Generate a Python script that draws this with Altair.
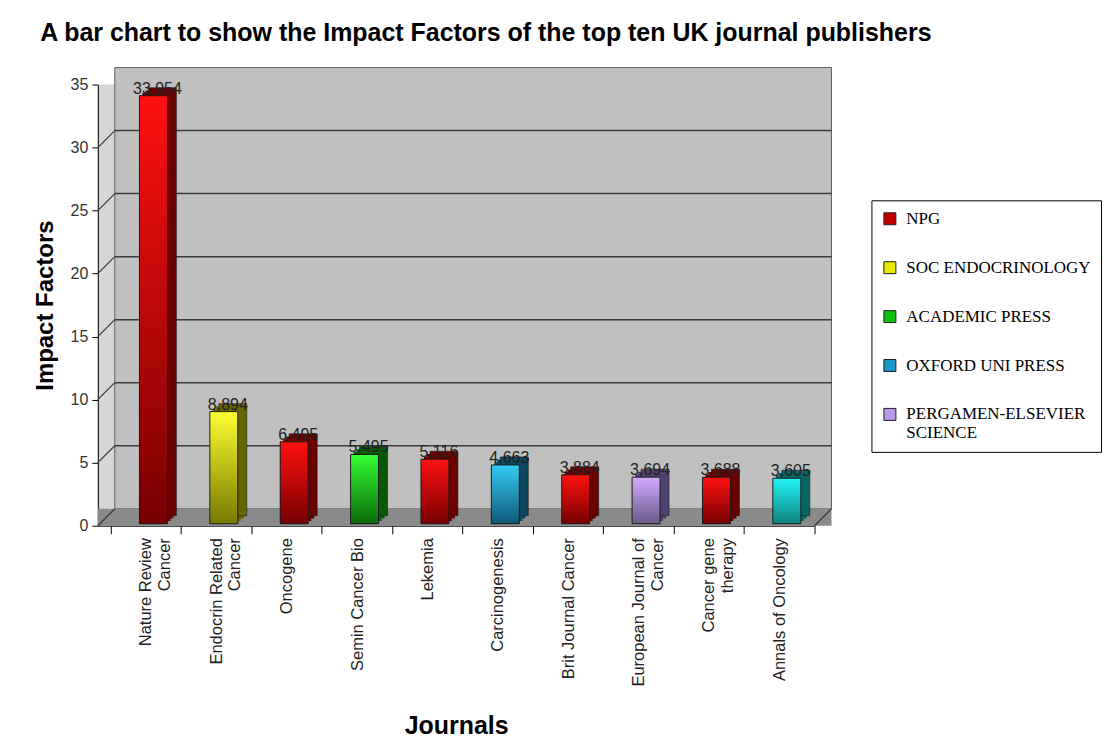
import altair as alt
import pandas as pd

journals = ["Nature Review\nCancer", "Endocrin Related\nCancer", "Oncogene", "Semin Cancer Bio",
            "Lekemia", "Carcinogenesis", "Brit Journal Cancer", "European Journal of\nCancer",
            "Cancer gene\ntherapy", "Annals of Oncology"]
impact = [33.954, 8.894, 6.495, 5.495, 5.116, 4.663, 3.884, 3.694, 3.688, 3.605]
publisher = ["NPG", "SOC ENDOCRINOLOGY", "NPG", "ACADEMIC PRESS", "NPG", "OXFORD UNI PRESS",
             "NPG", "PERGAMEN-ELSEVIER SCIENCE", "NPG", "OXFORD UNI PRESS (Annals)"]
groups = ["NPG", "SOC ENDOCRINOLOGY", "ACADEMIC PRESS", "OXFORD UNI PRESS",
          "PERGAMEN-ELSEVIER SCIENCE", "OXFORD UNI PRESS (Annals)"]
legend_groups = groups[:5]
y_ticks = [0, 5, 10, 15, 20, 25, 30, 35]
grid_levels = [0, 5, 10, 15, 20, 25, 30]

# styles
legend_colors = ["#c00000", "#e8e800", "#10c010", "#1a98c8", "#b898e8", "#20e0e0"]
top_colors = ["#ff1010", "#ffff33", "#33ff33", "#33ccf5", "#d4aaff", "#22f5f5"]
bottom_colors = ["#780000", "#787800", "#0a6a0a", "#0e5a78", "#665888", "#0e8080"]
dark_colors = ["#6a0000", "#666600", "#085808", "#0c4860", "#4e4270", "#0a6464"]

W, H = 718, 442
DX, DY = 17, 17
BAR = 28
BX, BY = 7.5, -2
SANS = "Liberation Sans, Arial, sans-serif"
SERIF = "Liberation Serif, Times New Roman, serif"

df = pd.DataFrame({"journal": journals, "impact": impact, "publisher": publisher})
wall = pd.DataFrame({"lo": [0], "hi": [35]})
grid = pd.DataFrame({"v": grid_levels})

xscale = alt.Scale(domain=journals, paddingInner=0, paddingOuter=0.092, align=1)
xaxis = alt.Axis(title="Journals", labelAngle=270, labelAlign="right", labelBaseline="middle",
                 labelExpr="split(datum.label, '\\n')", labelFont=SANS, labelFontSize=16.5,
                 labelColor="#222", labelPadding=4, labelLimit=300, tickBand="extent",
                 tickSize=8, tickColor="black", domainColor="black",
                 titleFont=SANS, titleFontSize=25, titleFontWeight="bold", titleColor="black",
                 titlePadding=28)
yscale = alt.Scale(domain=[0, 35], nice=False, zero=True)
yaxis = alt.Axis(title="Impact Factors", values=y_ticks, grid=False, domainColor="black",
                 tickColor="black", tickSize=6, labelFont=SANS, labelFontSize=16,
                 labelColor="#333", labelPadding=4, titleFont=SANS, titleFontSize=24,
                 titleFontWeight="bold", titleColor="black", titlePadding=13)

X = alt.X("journal:N", sort=journals, scale=xscale, axis=xaxis)

layers = []

# back wall
layers.append(
    alt.Chart(wall).mark_rect(fill="#c0c0c0", stroke="#606060", strokeWidth=1,
                              yOffset=-DY, y2Offset=-DY)
    .encode(x=alt.value(DX), x2=alt.value(W + DX),
            y=alt.Y("hi:Q", scale=yscale, axis=yaxis), y2="lo:Q")
)
# floor
layers.append(
    alt.Chart(wall).mark_rect(fill="#8a8a8a", y2Offset=-DY)
    .encode(x=alt.value(0), x2=alt.value(W + DX),
            y=alt.Y("lo:Q", scale=yscale, axis=yaxis), y2="lo:Q")
)
# grid lines on back wall
layers.append(
    alt.Chart(grid).transform_filter("datum.v > 0").mark_rule(color="#3a3a3a", strokeWidth=1.5,
                                                              yOffset=-DY)
    .encode(x=alt.value(DX), x2=alt.value(W + DX),
            y=alt.Y("v:Q", scale=yscale, axis=yaxis))
)
# diagonal connectors on side wall
layers.append(
    alt.Chart(grid).mark_rule(color="#3a3a3a", strokeWidth=1.2, y2Offset=-DY)
    .encode(x=alt.value(0), x2=alt.value(DX),
            y=alt.Y("v:Q", scale=yscale, axis=yaxis), y2="v:Q")
)
layers.append(
    alt.Chart(wall).mark_rule(color="#3a3a3a", strokeWidth=1.2, y2Offset=-DY)
    .encode(x=alt.value(W), x2=alt.value(W + DX),
            y=alt.Y("lo:Q", scale=yscale, axis=yaxis), y2="lo:Q")
)

# depth (side + top faces) of bars
for g, dc in zip(groups, dark_colors):
    for f in (1 / 3, 2 / 3, 1.0):
        layers.append(
            alt.Chart(df).transform_filter(alt.datum.publisher == g)
            .mark_bar(size=BAR, fill=dc, xOffset=BX + 9 * f, yOffset=BY - 8 * f,
                      stroke="#1a1a1a", strokeWidth=0.6 if f == 1.0 else 0)
            .encode(x=X, y=alt.Y("impact:Q", scale=yscale, axis=yaxis))
        )

# flat front faces carrying the legend
layers.append(
    alt.Chart(df).mark_bar(size=BAR, xOffset=BX, yOffset=BY)
    .encode(x=X, y=alt.Y("impact:Q", scale=yscale, axis=yaxis),
            color=alt.Color("publisher:N",
                            scale=alt.Scale(domain=groups, range=legend_colors),
                            legend=alt.Legend(
                                values=legend_groups, orient="none", legendX=775, legendY=116,
                                title=None, symbolType="square", symbolSize=144,
                                symbolStrokeColor="#222", symbolStrokeWidth=1,
                                labelFont=SERIF, labelFontSize=17, labelColor="black",
                                labelLimit=400, rowPadding=31, padding=10,
                                strokeColor="black", fillColor="white", labelOffset=8,
                                labelExpr="datum.label == 'PERGAMEN-ELSEVIER SCIENCE' ? ['PERGAMEN-ELSEVIER', 'SCIENCE'] : datum.label")))
)

# gradient front faces
for g, tc, bc in zip(groups, top_colors, bottom_colors):
    layers.append(
        alt.Chart(df).transform_filter(alt.datum.publisher == g)
        .mark_bar(size=BAR, xOffset=BX, yOffset=BY, stroke="#1a1a1a", strokeWidth=1,
                  color=alt.Gradient(gradient="linear",
                                     stops=[alt.GradientStop(color=tc, offset=0),
                                            alt.GradientStop(color=bc, offset=1)],
                                     x1=0, x2=0, y1=0, y2=1))
        .encode(x=X, y=alt.Y("impact:Q", scale=yscale, axis=yaxis))
    )

# value labels
layers.append(
    alt.Chart(df).mark_text(xOffset=BX + 4, yOffset=BY, dy=-7, baseline="middle",
                            font=SANS, fontSize=16, color="#222")
    .encode(x=X, y=alt.Y("impact:Q", scale=yscale, axis=yaxis),
            text=alt.Text("impact:Q", format=".3f"))
)

chart = alt.layer(*layers).properties(
    width=W, height=H,
    padding={"left": 33, "top": 20, "right": 5, "bottom": 5},
    title=alt.TitleParams(
        "A bar chart to show the Impact Factors of the top ten UK journal publishers",
        anchor="start", font=SANS, fontSize=25, fontWeight="bold", color="black",
        offset=21, dx=7)
).configure_view(fill="#d6d6d6", stroke=None)

chart.save("out.html", embed_options={"renderer": "svg", "actions": False})
